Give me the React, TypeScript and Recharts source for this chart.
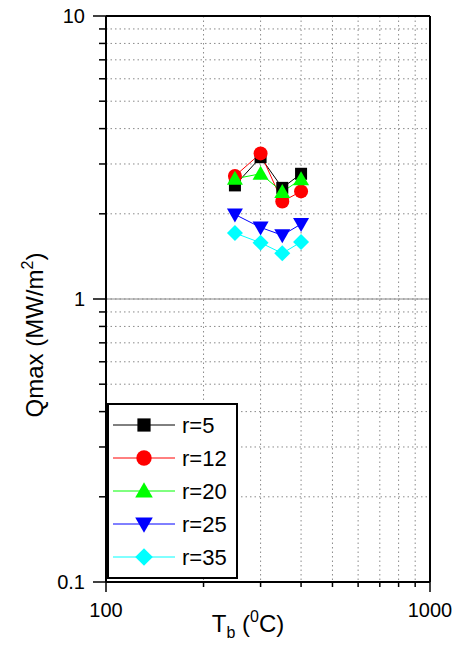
import React from 'react';
import {
  LineChart,
  Line,
  XAxis,
  YAxis,
  CartesianGrid,
  ReferenceLine,
  Legend,
  Label
} from 'recharts';

const FONT = '"Liberation Sans", Arial, sans-serif';

// Tb in degC
const TB = [250, 300, 350, 400];
const R5 = [2.52, 3.17, 2.47, 2.77];
const R12 = [2.72, 3.27, 2.21, 2.4];
const R20 = [2.66, 2.77, 2.39, 2.65];
const R25 = [1.99, 1.79, 1.68, 1.84];
const R35 = [1.71, 1.58, 1.45, 1.59];

const X_TICKS = [100, 200, 300, 400, 500, 600, 700, 800, 900, 1000];
const X_MAJOR = [100, 1000];
const Y_TICKS = [0.1, 0.2, 0.3, 0.4, 0.5, 0.6, 0.7, 0.8, 0.9, 1, 2, 3, 4, 5, 6, 7, 8, 9, 10];
const Y_MAJOR = [0.1, 1, 10];

const SERIES = [
  { key: 'r5', name: 'r=5', color: '#000000', shape: 'square', values: R5 },
  { key: 'r12', name: 'r=12', color: '#ff0000', shape: 'circle', values: R12 },
  { key: 'r20', name: 'r=20', color: '#00ff00', shape: 'up', values: R20 },
  { key: 'r25', name: 'r=25', color: '#0000ff', shape: 'down', values: R25 },
  { key: 'r35', name: 'r=35', color: '#00ffff', shape: 'diamond', values: R35 }
];

const data = TB.map((t, i) => {
  const row: { [k: string]: number } = { t };
  SERIES.forEach((s) => {
    row[s.key] = s.values[i];
  });
  return row;
});

function Marker({ shape, cx, cy, color, s = 1 }: any) {
  if (shape === 'square') {
    const h = 6 * s;
    return <rect x={cx - h} y={cy - h} width={2 * h} height={2 * h} fill={color} />;
  }
  if (shape === 'circle') {
    return <circle cx={cx} cy={cy} r={7 * s} fill={color} />;
  }
  if (shape === 'up') {
    const pts = `${cx},${cy - 8 * s} ${cx + 8 * s},${cy + 6 * s} ${cx - 8 * s},${cy + 6 * s}`;
    return <polygon points={pts} fill={color} />;
  }
  if (shape === 'down') {
    const pts = `${cx - 8 * s},${cy - 6 * s} ${cx + 8 * s},${cy - 6 * s} ${cx},${cy + 8 * s}`;
    return <polygon points={pts} fill={color} />;
  }
  const d = 8 * s;
  const pts = `${cx},${cy - d} ${cx + d},${cy} ${cx},${cy + d} ${cx - d},${cy}`;
  return <polygon points={pts} fill={color} />;
}

function XTick({ x, y, payload }: any) {
  const major = X_MAJOR.includes(payload.value);
  return (
    <g>
      <line x1={x} y1={y} x2={x} y2={y + (major ? 10 : 5)} stroke="#000" strokeWidth={1.5} />
      {major && (
        <text x={x} y={y + 35} textAnchor="middle" fontSize={20} fontFamily={FONT} fill="#000">
          {payload.value}
        </text>
      )}
    </g>
  );
}

function YTick({ x, y, payload }: any) {
  const major = Y_MAJOR.includes(payload.value);
  return (
    <g>
      <line x1={x} y1={y} x2={x - (major ? 13 : 7)} y2={y} stroke="#000" strokeWidth={1.5} />
      {major && (
        <text x={x - 21} y={y} dy="0.35em" textAnchor="end" fontSize={20} fontFamily={FONT} fill="#000">
          {payload.value}
        </text>
      )}
    </g>
  );
}

function LegendBox() {
  return (
    <svg width={131} height={176} style={{ display: 'block' }}>
      <rect x={1} y={1} width={129} height={174} fill="#fff" stroke="#000" strokeWidth={2} />
      {SERIES.map((s, i) => {
        const cy = 22 + i * 33;
        return (
          <g key={s.key}>
            <line x1={6} y1={cy} x2={68} y2={cy} stroke={s.color} strokeWidth={1} />
            <Marker shape={s.shape} cx={37} cy={cy} color={s.color} s={1.1} />
            <text x={75} y={cy} dy="0.36em" fontSize={22} fontFamily={FONT} fill="#000">
              {s.name}
            </text>
          </g>
        );
      })}
    </svg>
  );
}

export default function App() {
  return (
    <div style={{ position: 'absolute', left: 0, top: 0, background: '#fff' }}>
      <LineChart
        width={461}
        height={646}
        data={data}
        margin={{ top: 16, right: 31, left: 0, bottom: 0 }}
      >
        <CartesianGrid stroke="#8a8a8a" strokeDasharray="1.5 3" strokeWidth={1} />
        <XAxis
          dataKey="t"
          type="number"
          scale="log"
          domain={[100, 1000]}
          ticks={X_TICKS}
          interval={0}
          height={64}
          tickSize={0}
          tickMargin={0}
          tickLine={false}
          axisLine={{ stroke: '#000', strokeWidth: 2 }}
          tick={<XTick />}
          allowDataOverflow
        >
          <Label
            content={() => (
              <text x={248} y={632} textAnchor="middle" fontSize={24} fontFamily={FONT} fill="#000">
                T
                <tspan fontSize={16} dy={6}>b</tspan>
                <tspan dy={-6}> (</tspan>
                <tspan fontSize={16} dy={-10}>0</tspan>
                <tspan dy={10}>C)</tspan>
              </text>
            )}
          />
        </XAxis>
        <YAxis
          type="number"
          scale="log"
          domain={[0.1, 10]}
          ticks={Y_TICKS}
          interval={0}
          width={106}
          tickSize={0}
          tickMargin={0}
          tickLine={false}
          axisLine={{ stroke: '#000', strokeWidth: 2 }}
          tick={<YTick />}
          allowDataOverflow
        >
          <Label
            content={() => (
              <text
                x={43}
                y={335}
                transform="rotate(-90 43 335)"
                textAnchor="middle"
                fontSize={24}
                fontFamily={FONT}
                fill="#000"
              >
                Qmax (MW/m
                <tspan fontSize={16} dy={-10}>2</tspan>
                <tspan dy={10}>)</tspan>
              </text>
            )}
          />
        </YAxis>
        <ReferenceLine y={1} stroke="#888" strokeWidth={1} />
        <ReferenceLine y={10} stroke="#000" strokeWidth={2} />
        <ReferenceLine x={1000} stroke="#000" strokeWidth={2} />
        {SERIES.map((s) => (
          <Line
            key={s.key}
            dataKey={s.key}
            name={s.name}
            stroke={s.color}
            strokeWidth={1}
            isAnimationActive={false}
            dot={(p: any) => (
              <Marker key={`${s.key}-${p.index}`} shape={s.shape} cx={p.cx} cy={p.cy} color={s.color} />
            )}
            activeDot={false}
          />
        ))}
        <Legend
          layout="horizontal"
          verticalAlign="middle"
          align="center"
          content={() => <LegendBox />}
          wrapperStyle={{ left: 107, top: 403, width: 131, height: 176 }}
        />
      </LineChart>
    </div>
  );
}
